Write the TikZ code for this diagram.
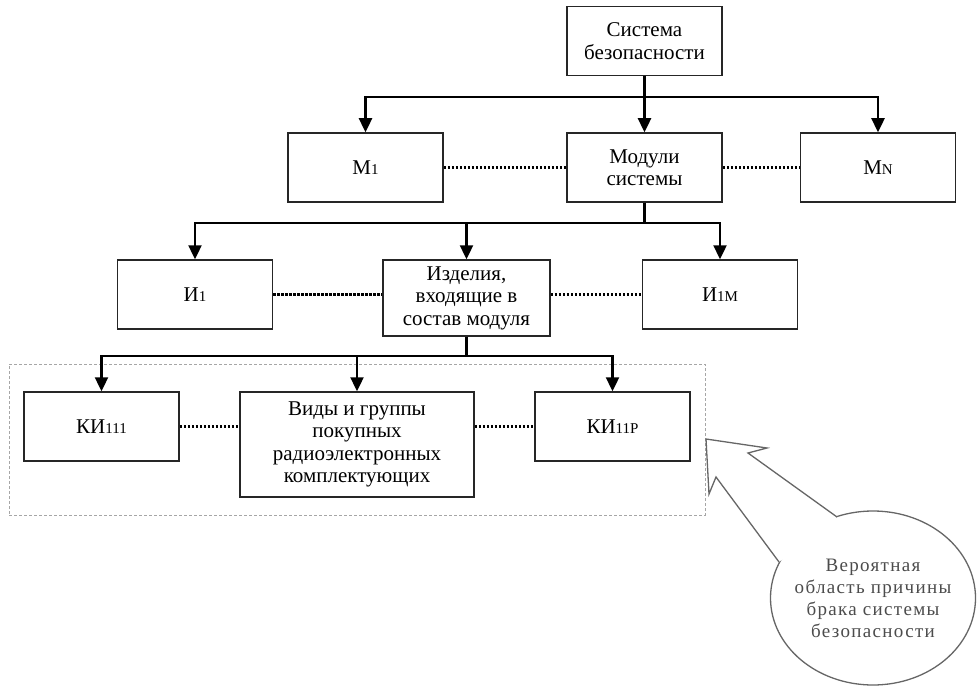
\documentclass[tikz,border=0pt]{standalone}
\usepackage{fontspec}
\setmainfont{Liberation Serif}
\newfontfamily\spacedfont[LetterSpace=7]{Liberation Serif}
\usetikzlibrary{arrows.meta,shapes.geometric}
\newcommand\smidx[1]{{\fontsize{15}{15}\selectfont #1}}
\begin{document}
\begin{tikzpicture}[x=1pt,y=-1pt,
  box/.style={draw=black!85, line width=1.5pt, minimum width=155pt, minimum height=69pt,
              inner sep=0pt, align=center, font=\fontsize{21}{22.5}\selectfont},
  arr/.style={line width=2.4pt, -{Triangle[length=14pt,width=13pt]}},
  dotline/.style={line width=2.2pt, dash pattern=on 2.4pt off 1.6pt},
  callout/.style={draw=black!60, line width=1.3pt}
]
\useasboundingbox (0,0) rectangle (977,687);

% dashed region
\node[draw=black!35, line width=1pt, dash pattern=on 3pt off 2pt,
      minimum width=696pt, minimum height=151pt, inner sep=0pt] (region) at (357,439.5) {};

% boxes
\node[box] (top) at (644.5,41) {Система\\безопасности};
\node[box] (m1)  at (365.5,167.5) {М\smidx{1}};
\node[box] (mod) at (644.5,167.5) {Модули\\системы};
\node[box] (mn)  at (878,167.5) {М\smidx{N}};

\node[box] (i1)  at (195,294.5) {И\smidx{1}};
\node[box, minimum width=167pt, minimum height=76pt] (izd) at (466.5,298) {Изделия,\\входящие в\\состав модуля};
\node[box] (i1m) at (720,294.5) {И\smidx{1М}};

\node[box] (k1)  at (101.5,426.5) {КИ\smidx{111}};
\node[box, minimum width=234pt, minimum height=105pt] (vid) at (357,444.5) {Виды и группы\\покупных\\радиоэлектронных\\комплектующих};
\node[box] (kp)  at (612.5,426.5) {КИ\smidx{11Р}};

% tree connectors
\draw[arr] (top.south) -- ++(0,21) -| (m1.north);
\draw[arr] (top.south) -- (mod.north);
\draw[arr] (top.south) -- ++(0,21) -| (mn.north);

\draw[arr] (mod.south) -- (mod.south |- 0,223) -| (i1.north);
\draw[arr] (mod.south) -- (mod.south |- 0,223) -| (izd.north);
\draw[arr] (mod.south) -- (mod.south |- 0,223) -| (i1m.north);

\draw[arr] (izd.south) -- ++(0,19) -| (k1.north);
\draw[arr] (izd.south) -- ++(0,19) -| (vid.north);
\draw[arr] (izd.south) -- ++(0,19) -| (kp.north);

% dotted links
\draw[dotline] (m1.east) -- (mod.west);
\draw[dotline] (mod.east) -- (mn.west);
\draw[dotline] (i1.east) -- (i1.east -| izd.west);
\draw[dotline] (izd.east |- i1m.west) -- (i1m.west);
\draw[dotline] (k1.east) -- (k1.east -| vid.west);
\draw[dotline] (vid.east |- kp.west) -- (kp.west);

% callout
\node[ellipse, callout, fill=white, minimum width=205pt, minimum height=174pt, inner sep=0pt] (cl) at (873,598) {};
\fill[white] (779,562) -- (716,477) -- (709,494) -- (706,439) -- (767,448) -- (748,453) -- (837,517) -- cycle;
\draw[callout, line join=miter] (779,562) -- (716,477) -- (709,494) -- (706,439) -- (767,448) -- (748,453) -- (837,517);
\node[align=center, text=black!70, font=\spacedfont\fontsize{19}{22}\selectfont] (cltext) at (cl.center) {Вероятная\\область причины\\брака системы\\безопасности};
\end{tikzpicture}
\end{document}
